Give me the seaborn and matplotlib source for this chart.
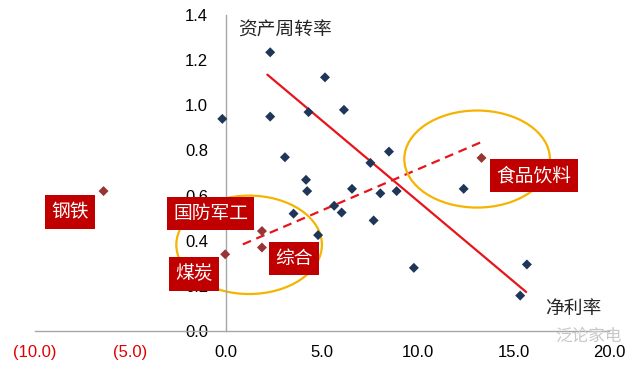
import numpy as np
import matplotlib.pyplot as plt
import pandas as pd
import seaborn as sns
from matplotlib.patches import Ellipse

# Net margin (%) vs asset turnover, one point per sector
margin_other = [-0.2, 2.3, 2.3, 5.16, 4.3, 6.15, 3.07, 4.17, 4.23, 6.57, 3.52, 5.64,
                6.03, 4.8, 8.5, 7.53, 8.05, 8.9, 7.7, 12.4, 9.8, 15.7, 15.35]
turnover_other = [0.94, 1.235, 0.95, 1.124, 0.97, 0.98, 0.77, 0.67, 0.62, 0.63, 0.52, 0.555,
                  0.525, 0.425, 0.795, 0.745, 0.61, 0.62, 0.49, 0.63, 0.28, 0.295, 0.157]
margin_hi = [1.87, 1.87, -0.05, 13.33, -6.4]
turnover_hi = [0.443, 0.37, 0.34, 0.767, 0.62]

# sector tags
tag_names = ['钢铁', '国防军工', '煤炭', '综合', '食品饮料']
tag_x = [-8.13, -0.8, -1.69, 3.54, 16.08]
tag_y = [0.527, 0.52, 0.253, 0.32, 0.688]

# trend lines
solid_x = [2.15, 15.66]
solid_y = [1.136, 0.173]
dash_x = [0.87, 13.4]
dash_y = [0.384, 0.84]

# circled groups (center x, center y, width, height)
circles = [(1.2, 0.382, 7.6, 0.436), (13.1, 0.762, 7.6, 0.43)]

x_ticks = [-10, -5, 0, 5, 10, 15, 20]
x_labels = ['(10.0)', '(5.0)', '0.0', '5.0', '10.0', '15.0', '20.0']
y_ticks = [0.0, 0.2, 0.4, 0.6, 0.8, 1.0, 1.2, 1.4]

df = pd.DataFrame({
    'margin': margin_other + margin_hi,
    'turnover': turnover_other + turnover_hi,
    'group': ['other'] * len(margin_other) + ['hi'] * len(margin_hi),
})

sns.set_style('white')
plt.rcParams['font.family'] = ['Liberation Sans', 'Noto Sans CJK SC', 'DejaVu Sans']

fig = plt.figure(figsize=(6.4, 3.67), dpi=100)
ax = fig.add_axes([0.054, 0.098, 0.898, 0.861])

red = '#E8141B'
sns.lineplot(x=solid_x, y=solid_y, color=red, lw=1.6, ax=ax)
sns.lineplot(x=dash_x, y=dash_y, color=red, lw=1.6, linestyle=(0, (4, 2.6)), ax=ax)

for cx, cy, w, h in circles:
    ax.add_patch(Ellipse((cx, cy), w, h, fill=False, ec='#F5B400', lw=1.6, zorder=2))

sns.scatterplot(data=df, x='margin', y='turnover', hue='group',
                palette={'other': '#1F3658', 'hi': '#963634'},
                marker='D', s=26, edgecolor='none', legend=False, ax=ax, zorder=3)

for name, tx, ty in zip(tag_names, tag_x, tag_y):
    ax.text(tx, ty, name, color='white', fontsize=13.5, ha='center', va='center',
            family=['Noto Sans CJK SC'], zorder=5,
            bbox=dict(boxstyle='square,pad=0.33', fc='#C00000', ec='none'))

ax.text(0.63, 1.333, '资产周转率', fontsize=13.5, ha='left', va='center',
        family=['Noto Sans CJK SC'])
ax.text(18.1, 0.098, '净利率', fontsize=13.5, ha='center', va='center',
        family=['Noto Sans CJK SC'])
ax.text(18.9, 0.013, '泛论家电', fontsize=12, color='#C8C8C8', ha='center', va='top',
        family=['Noto Sans CJK SC'])

ax.set_xlim(-10, 20)
ax.set_ylim(0, 1.4)
ax.set_xticks(x_ticks)
ax.set_xticklabels(x_labels)
ax.set_yticks(y_ticks)
ax.set_yticklabels([f'{v:.1f}' for v in y_ticks])
ax.set_xlabel('')
ax.set_ylabel('')

ax.spines['left'].set_position(('data', 0))
ax.spines['right'].set_visible(False)
ax.spines['top'].set_visible(False)
for s in ['left', 'bottom']:
    ax.spines[s].set_color('#A6A6A6')
    ax.spines[s].set_linewidth(1.0)
ax.tick_params(axis='both', which='major', direction='out', length=4, width=1.0,
               color='#A6A6A6', labelsize=12, labelcolor='black')
ax.tick_params(axis='y', pad=9)
ax.tick_params(axis='x', pad=6)
for lbl in ax.get_xticklabels()[:2]:
    lbl.set_color('#E00000')

fig.savefig('out.png', dpi=100)
